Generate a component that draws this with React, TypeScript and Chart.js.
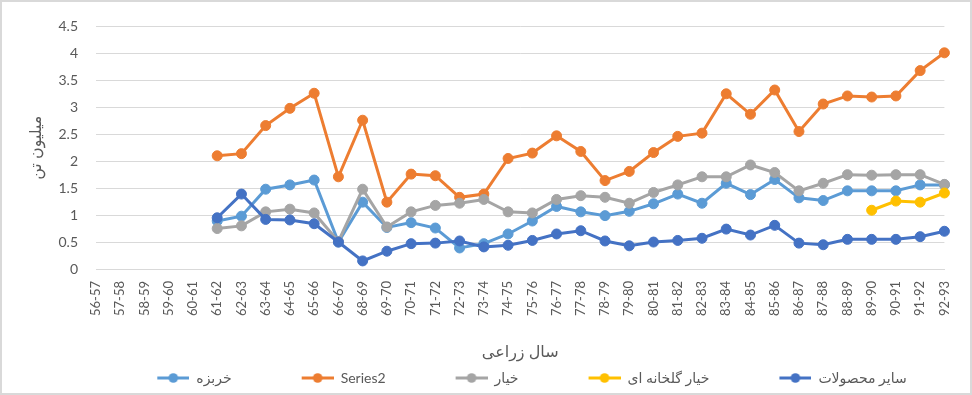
import React, { useEffect, useRef } from "react";
import { Chart, registerables } from "chart.js";

Chart.register(...registerables);

const categories = [
  "56-57", "57-58", "58-59", "59-60", "60-61", "61-62", "62-63", "63-64", "64-65", "65-66",
  "66-67", "68-69", "69-70", "70-71", "71-72", "72-73", "73-74", "74-75", "75-76", "76-77",
  "77-78", "78-79", "79-80", "80-81", "81-82", "82-83", "83-84", "84-85", "85-86", "86-87",
  "87-88", "88-89", "89-90", "90-91", "91-92", "92-93",
];

const melon = [
  null, null, null, null, null, 0.89, 0.98, 1.48, 1.56, 1.65,
  0.5, 1.24, 0.77, 0.86, 0.76, 0.39, 0.47, 0.65, 0.89, 1.16,
  1.06, 0.99, 1.07, 1.21, 1.39, 1.22, 1.59, 1.38, 1.66, 1.32,
  1.27, 1.45, 1.45, 1.45, 1.56, 1.56,
];

const series2 = [
  null, null, null, null, null, 2.1, 2.14, 2.66, 2.98, 3.26,
  1.71, 2.76, 1.24, 1.76, 1.73, 1.33, 1.39, 2.05, 2.15, 2.47,
  2.18, 1.64, 1.81, 2.16, 2.46, 2.52, 3.25, 2.87, 3.32, 2.55,
  3.06, 3.21, 3.19, 3.21, 3.68, 4.01,
];

const cucumber = [
  null, null, null, null, null, 0.75, 0.8, 1.06, 1.11, 1.04,
  0.51, 1.48, 0.78, 1.06, 1.18, 1.22, 1.29, 1.06, 1.04, 1.29,
  1.36, 1.33, 1.22, 1.42, 1.56, 1.71, 1.71, 1.93, 1.79, 1.45,
  1.59, 1.75, 1.74, 1.75, 1.75, 1.57,
];

const greenhouseCucumber = [
  null, null, null, null, null, null, null, null, null, null,
  null, null, null, null, null, null, null, null, null, null,
  null, null, null, null, null, null, null, null, null, null,
  null, null, 1.09, 1.26, 1.24, 1.41,
];

const otherProducts = [
  null, null, null, null, null, 0.95, 1.39, 0.92, 0.91, 0.84,
  0.5, 0.15, 0.33, 0.47, 0.48, 0.52, 0.41, 0.44, 0.53, 0.65,
  0.71, 0.52, 0.43, 0.5, 0.53, 0.57, 0.74, 0.63, 0.81, 0.48,
  0.45, 0.55, 0.55, 0.55, 0.6, 0.7,
];

const seriesNames = ["سایر محصولات", "خیار گلخانه ای", "خیار", "Series2", "خربزه"];
const seriesColors = ["#4472C4", "#FFC000", "#A5A5A5", "#ED7D31", "#5B9BD5"];
const seriesData = [otherProducts, greenhouseCucumber, cucumber, series2, melon];

const yTitle = "میلیون تن";
const xTitle = "سال زراعی";

const FONT = "Lato, 'DejaVu Sans', sans-serif";
const TEXT = "#595959";
const GRID = "#d9d9d9";

const ICON_GAP = 60;
const ICON_LINE = 32;

function makeLegendIcon(color: string) {
  const c = document.createElement("canvas");
  c.width = ICON_GAP + ICON_LINE;
  c.height = 12;
  const ctx = c.getContext("2d")!;
  ctx.strokeStyle = color;
  ctx.lineWidth = 3;
  ctx.beginPath();
  ctx.moveTo(ICON_GAP, 6);
  ctx.lineTo(ICON_GAP + ICON_LINE, 6);
  ctx.stroke();
  ctx.fillStyle = color;
  ctx.beginPath();
  ctx.arc(ICON_GAP + ICON_LINE / 2, 6, 4.8, 0, Math.PI * 2);
  ctx.fill();
  return c;
}

export default function App() {
  const ref = useRef<HTMLCanvasElement | null>(null);

  useEffect(() => {
    document.body.style.margin = "0";
    const canvas = ref.current;
    if (!canvas) return;
    const icons = seriesColors.map(makeLegendIcon);

    const chart = new Chart(canvas, {
      type: "line",
      data: {
        labels: categories,
        datasets: seriesNames.map((name, i) => ({
          label: name,
          data: seriesData[i],
          borderColor: seriesColors[i],
          backgroundColor: seriesColors[i],
          pointBackgroundColor: seriesColors[i],
          pointBorderColor: seriesColors[i],
          borderWidth: 3,
          pointRadius: 5,
          pointBorderWidth: 1,
          tension: 0,
          spanGaps: false,
        })),
      },
      options: {
        responsive: false,
        animation: false,
        layout: { padding: { top: 21, right: 26, left: 58, bottom: 0 } },
        plugins: {
          tooltip: { enabled: false },
          legend: {
            position: "bottom",
            reverse: true,
            labels: {
              usePointStyle: true,
              pointStyleWidth: ICON_GAP + ICON_LINE,
              boxHeight: 12,
              padding: 10,
              color: TEXT,
              font: { family: FONT, size: 14 },
              generateLabels: (ch: any) => {
                const items = Chart.defaults.plugins.legend.labels.generateLabels(ch);
                return items.map((it: any) => ({
                  ...it,
                  pointStyle: icons[it.datasetIndex],
                  fontColor: TEXT,
                }));
              },
            },
          },
        },
        scales: {
          x: {
            grid: { display: false, drawTicks: false },
            border: { display: true, color: GRID, width: 1 },
            ticks: {
              color: TEXT,
              font: { family: FONT, size: 13 },
              minRotation: 90,
              maxRotation: 90,
              padding: 12,
              autoSkip: false,
            },
            title: {
              display: true,
              text: xTitle,
              color: TEXT,
              font: { family: FONT, size: 16 },
              padding: { top: 0, bottom: 0 },
            },
            afterFit: (scale: any) => {
              scale.height = 92;
            },
          },
          y: {
            min: 0,
            max: 4.5,
            grid: { color: GRID, drawTicks: false, lineWidth: 1 },
            border: { display: false },
            ticks: {
              stepSize: 0.5,
              color: TEXT,
              font: { family: FONT, size: 14 },
              padding: 18,
              callback: (v: any) => String(v),
            },
            title: {
              display: true,
              text: yTitle,
              color: TEXT,
              font: { family: FONT, size: 16 },
              padding: { top: -32, bottom: 0 },
            },
            afterFit: (scale: any) => {
              scale.width = 38;
            },
          },
        },
      },
    });

    return () => chart.destroy();
  }, []);

  return (
    <div style={{ position: "relative", width: 972, height: 395, background: "#fff" }}>
      <canvas ref={ref} width={972} height={395} style={{ display: "block" }} />
      <div
        style={{
          position: "absolute",
          left: 0,
          top: 0,
          width: 972,
          height: 395,
          boxSizing: "border-box",
          border: "2px solid #d9d9d9",
          pointerEvents: "none",
        }}
      />
    </div>
  );
}
